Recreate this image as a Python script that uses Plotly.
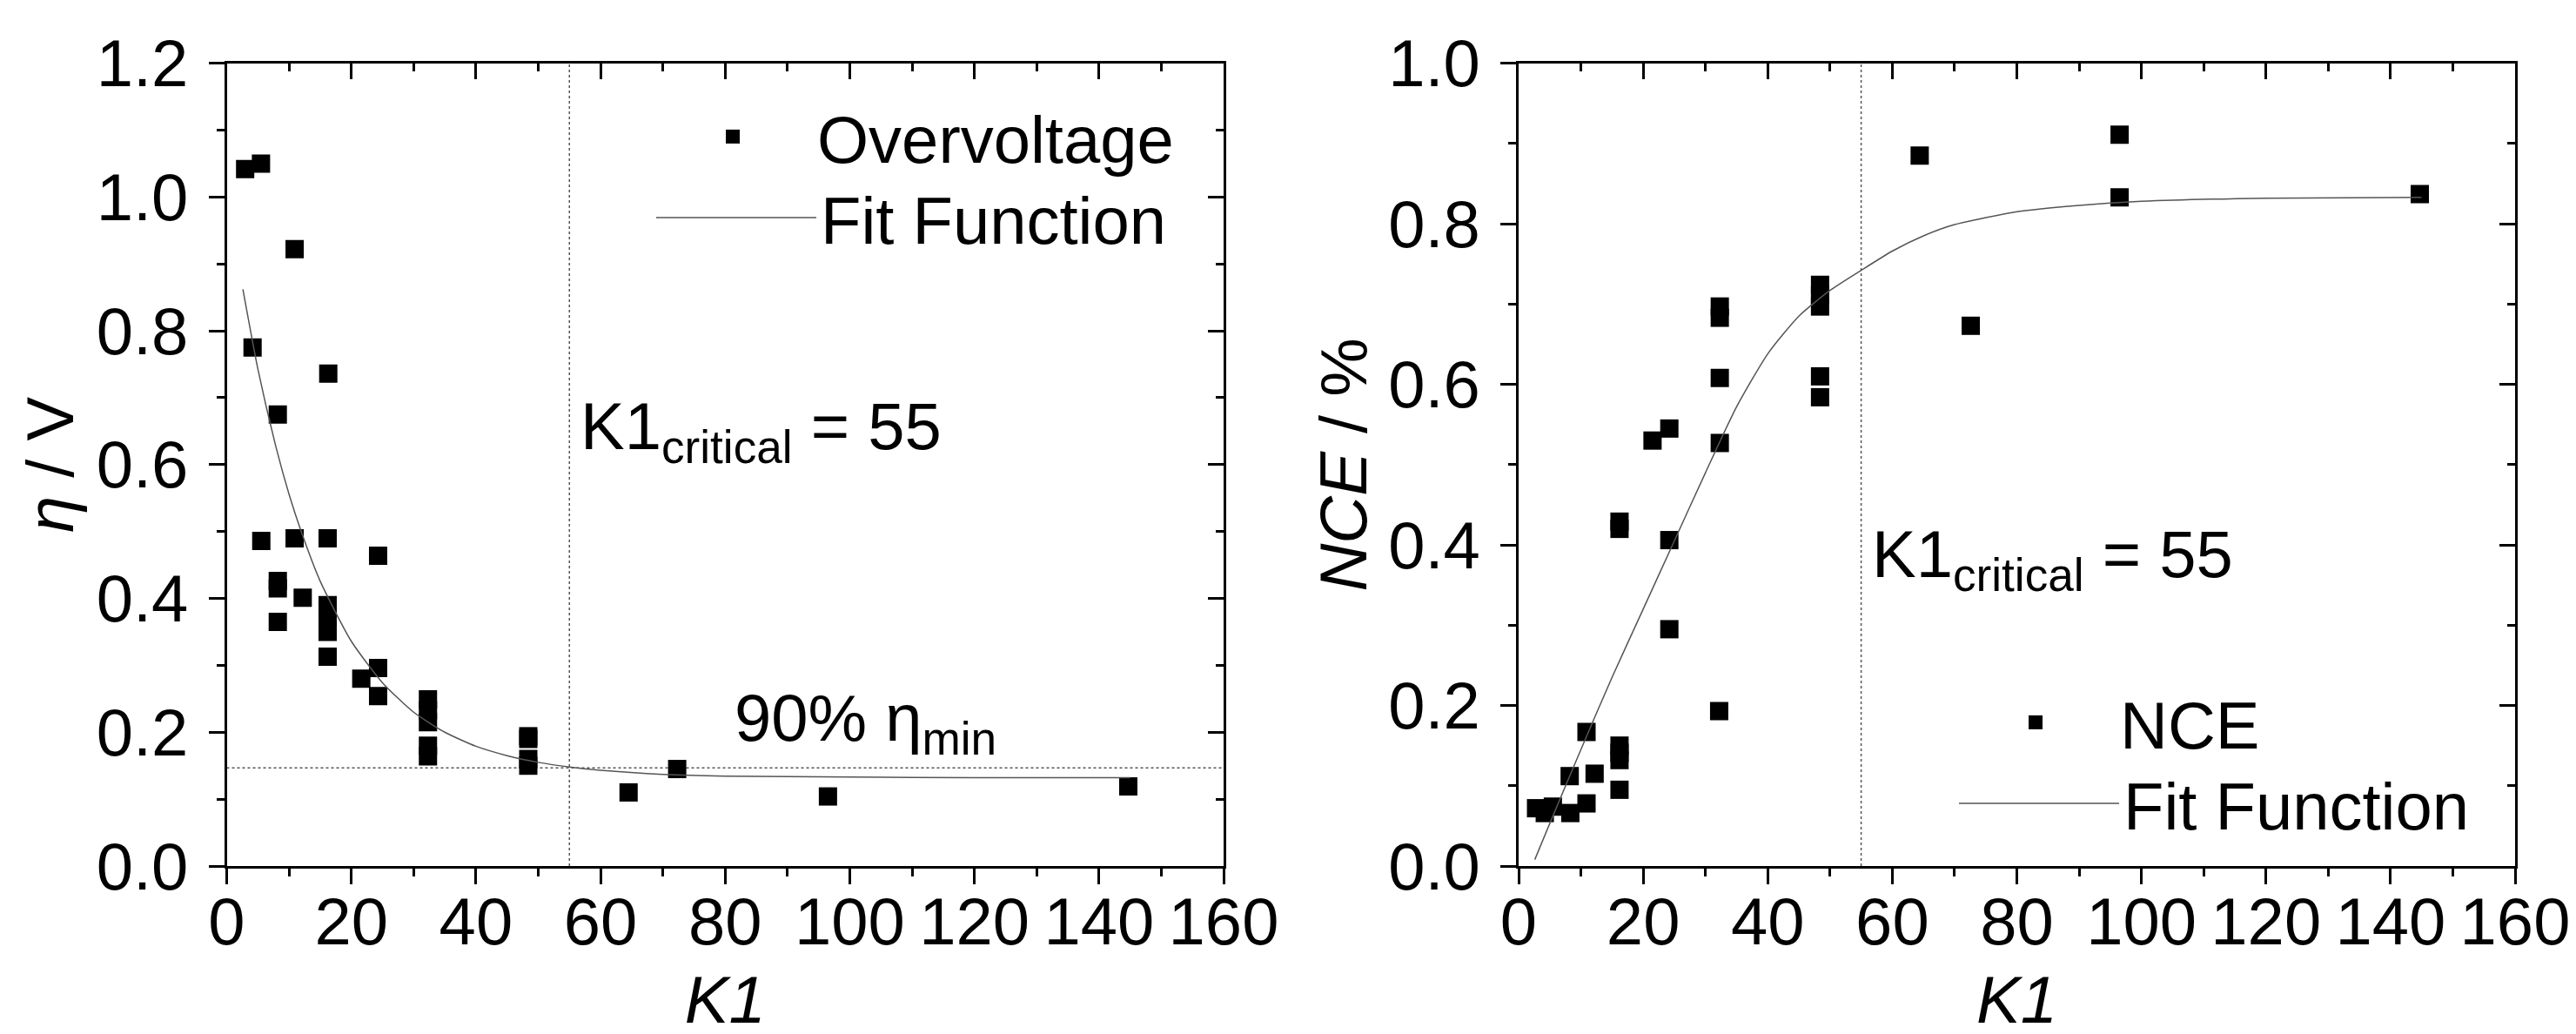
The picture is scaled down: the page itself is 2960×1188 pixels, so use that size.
import plotly.graph_objects as go

# -----------------------------------------------------------------------------
#                                   DATA
# -----------------------------------------------------------------------------
# left panel: overvoltage vs K1
k1_eta = [2.96, 5.5, 10.9, 4.15, 16.3, 8.2, 5.55, 10.9, 16.2, 24.3, 8.2, 8.2,
          8.2, 12.2, 16.2, 16.2, 16.2, 16.2, 21.6, 24.3, 24.3, 32.3, 32.3,
          32.3, 32.3, 32.3, 48.4, 48.4, 48.4, 48.4, 64.5, 72.3, 96.5, 144.7]
eta = [1.042, 1.050, 0.922, 0.775, 0.736, 0.675, 0.486, 0.490, 0.490, 0.464,
       0.426, 0.415, 0.365, 0.401, 0.390, 0.372, 0.350, 0.313, 0.280, 0.296,
       0.254, 0.249, 0.233, 0.215, 0.180, 0.164, 0.194, 0.190, 0.160, 0.150,
       0.110, 0.145, 0.104, 0.119]
fit_eta_k1 = [2.6, 5, 8, 10, 12, 15, 20, 25, 30, 35, 40, 45, 50, 55, 60, 70,
              80, 100, 120, 145]
fit_eta = [0.862, 0.743, 0.623, 0.556, 0.499, 0.426, 0.336, 0.274, 0.230,
           0.200, 0.179, 0.165, 0.155, 0.148, 0.143, 0.137, 0.1345, 0.133,
           0.132, 0.132]
eta_90 = 0.1467

# right panel: NCE vs K1
k1_nce = [2.8, 4.2, 5.5, 8.3, 10.9, 8.2, 12.2, 10.9, 16.2, 16.2, 16.2, 16.2,
          16.2, 16.2, 21.5, 24.2, 24.2, 24.2, 32.2, 32.3, 32.3, 32.3, 32.3,
          48.4, 48.4, 48.4, 48.4, 48.4, 64.4, 72.6, 96.5, 96.5, 144.7]
nce = [0.072, 0.066, 0.074, 0.066, 0.078, 0.112, 0.115, 0.167, 0.150, 0.141,
       0.132, 0.095, 0.429, 0.420, 0.530, 0.545, 0.406, 0.295, 0.193, 0.697,
       0.683, 0.608, 0.527, 0.724, 0.711, 0.697, 0.610, 0.584, 0.885, 0.673,
       0.911, 0.833, 0.837]
fit_nce_k1 = [2.6, 5, 10, 15, 20, 25, 30, 35, 40, 45, 50, 55, 60, 65, 70, 80,
              90, 100, 120, 145]
fit_nce = [0.008, 0.053, 0.145, 0.235, 0.320, 0.405, 0.490, 0.572, 0.638,
           0.685, 0.717, 0.742, 0.766, 0.785, 0.799, 0.815, 0.823, 0.828,
           0.832, 0.833]

k1_critical = 55

# -----------------------------------------------------------------------------
#                                  STYLE
# -----------------------------------------------------------------------------
FONT = "Liberation Sans, Arial, sans-serif"
FS = 76
W, H = 2960, 1188
OFF = 8  # the page body adds an 8 px margin around the figure


def fx(px):
    """Screen pixel column -> paper fraction."""
    return (px - OFF) / W


def fy(py):
    """Screen pixel row -> paper fraction (from the bottom)."""
    return 1 - (py - OFF) / H


dom_y = [fy(995), fy(72.7)]
dom_x1 = [fx(260.5), fx(1406)]
dom_x2 = [fx(1745), fx(2890)]

fig = go.Figure()

# -----------------------------------------------------------------------------
#                                  TRACES
# -----------------------------------------------------------------------------
marker = dict(symbol='square', size=21, color='black')
fit_line = dict(color='#555555', width=1.5, shape='spline', smoothing=0.6)

fig.add_trace(go.Scatter(x=k1_eta, y=eta, mode='markers', marker=marker,
                         name='Overvoltage', xaxis='x', yaxis='y',
                         legend='legend'))
fig.add_trace(go.Scatter(x=fit_eta_k1, y=fit_eta, mode='lines', line=fit_line,
                         name='Fit Function', xaxis='x', yaxis='y',
                         legend='legend2'))
fig.add_trace(go.Scatter(x=k1_nce, y=nce, mode='markers', marker=marker,
                         name='NCE', xaxis='x2', yaxis='y2',
                         legend='legend3'))
fig.add_trace(go.Scatter(x=fit_nce_k1, y=fit_nce, mode='lines', line=fit_line,
                         name='Fit Function', xaxis='x2', yaxis='y2',
                         legend='legend4'))

# dummy traces so the mirrored (top / right) axes get drawn
for xa, ya in (('x3', 'y3'), ('x4', 'y4')):
    fig.add_trace(go.Scatter(x=[None], y=[None], xaxis=xa, yaxis=ya,
                             showlegend=False, hoverinfo='skip'))

# -----------------------------------------------------------------------------
#                                   AXES
# -----------------------------------------------------------------------------
base = dict(showline=True, linewidth=3, linecolor='black', ticks='outside',
            ticklen=18, tickwidth=3, tickcolor='black', showgrid=False,
            zeroline=False, automargin=False,
            tickfont=dict(family=FONT, size=FS, color='black'))


def xax(domain, **kw):
    d = dict(base, domain=domain, range=[0, 160], tick0=0, dtick=20,
             minor=dict(dtick=10, ticklen=9, tickwidth=3, tickcolor='black',
                        ticks='outside'))
    d.update(kw)
    return d


def yax(domain, top, **kw):
    d = dict(base, domain=domain, range=[0, top], tick0=0, dtick=0.2,
             tickformat='.1f',
             minor=dict(dtick=0.1, ticklen=9, tickwidth=3, tickcolor='black',
                        ticks='outside'))
    d.update(kw)
    return d


minor_in_x = dict(dtick=10, ticklen=9, tickwidth=3, ticks='inside',
                  tickcolor='black')
minor_in_y = dict(dtick=0.1, ticklen=9, tickwidth=3, ticks='inside',
                  tickcolor='black')
xtitle = dict(text='<i>K1</i>', font=dict(family=FONT, size=FS), standoff=22)

fig.update_layout(
    xaxis=xax(dom_x1, anchor='y', title=xtitle, ticklabelstandoff=-22),
    yaxis=yax(dom_y, 1.2, anchor='x', ticklabelstandoff=8,
              title=dict(text='<i>η</i> / V', font=dict(family=FONT, size=FS),
                         standoff=2)),
    xaxis2=xax(dom_x2, anchor='y2', title=xtitle, ticklabelstandoff=-22),
    yaxis2=yax(dom_y, 1.0, anchor='x2', ticklabelstandoff=8,
               title=dict(text='<i>NCE</i> / %',
                          font=dict(family=FONT, size=FS), standoff=0)),
    # mirrored axes with inward ticks
    xaxis3=xax(dom_x1, overlaying='x', side='top', anchor='y', ticks='inside',
               showticklabels=False, minor=minor_in_x),
    yaxis3=yax(dom_y, 1.2, overlaying='y', side='right', anchor='x',
               ticks='inside', showticklabels=False, minor=minor_in_y),
    xaxis4=xax(dom_x2, overlaying='x2', side='top', anchor='y2',
               ticks='inside', showticklabels=False, minor=minor_in_x),
    yaxis4=yax(dom_y, 1.0, overlaying='y2', side='right', anchor='x2',
               ticks='inside', showticklabels=False, minor=minor_in_y),
)

# -----------------------------------------------------------------------------
#                            REFERENCE LINES
# -----------------------------------------------------------------------------
ref = dict(color='#555555', width=1.5, dash='dot')
fig.add_shape(type='line', xref='x', yref='y domain', x0=k1_critical,
              x1=k1_critical, y0=0, y1=1, line=ref, layer='below')
fig.add_shape(type='line', xref='x2', yref='y2 domain', x0=k1_critical,
              x1=k1_critical, y0=0, y1=1, line=ref, layer='below')
fig.add_shape(type='line', xref='x domain', yref='y', x0=0, x1=1, y0=eta_90,
              y1=eta_90, line=ref, layer='below')

# -----------------------------------------------------------------------------
#                               ANNOTATIONS
# -----------------------------------------------------------------------------
ann_font = dict(family=FONT, size=FS, color='black')
fig.add_annotation(x=56.5, y=0.65, xref='x', yref='y', xanchor='left',
                   yanchor='middle', showarrow=False, font=ann_font,
                   text=f'K1<sub>critical</sub> = {k1_critical}')
fig.add_annotation(x=56.4, y=0.383, xref='x2', yref='y2', xanchor='left',
                   yanchor='middle', showarrow=False, font=ann_font,
                   text=f'K1<sub>critical</sub> = {k1_critical}')
fig.add_annotation(x=81.2, y=0.215, xref='x', yref='y', xanchor='left',
                   yanchor='middle', showarrow=False, font=ann_font,
                   text='90% η<sub>min</sub>')

# -----------------------------------------------------------------------------
#                                 LEGENDS
# -----------------------------------------------------------------------------
# one legend per entry so each row can be placed where the reference has it
leg = dict(font=dict(family=FONT, size=FS, color='black'),
           bgcolor='rgba(0,0,0,0)', borderwidth=0, xanchor='left',
           yanchor='middle')
fig.update_layout(
    legend=dict(leg, itemwidth=184, x=fx(745), y=fy(157)),
    legend2=dict(leg, itemwidth=184, x=fx(749), y=fy(250)),
    legend3=dict(leg, itemwidth=184, x=fx(2242), y=fy(830)),
    legend4=dict(leg, itemwidth=184, x=fx(2246), y=fy(923)),
)

fig.update_layout(width=W, height=H, margin=dict(l=0, r=0, t=0, b=0),
                  plot_bgcolor='white', paper_bgcolor='white',
                  font=dict(family=FONT, size=FS, color='black'))

fig.write_html("out.html")
